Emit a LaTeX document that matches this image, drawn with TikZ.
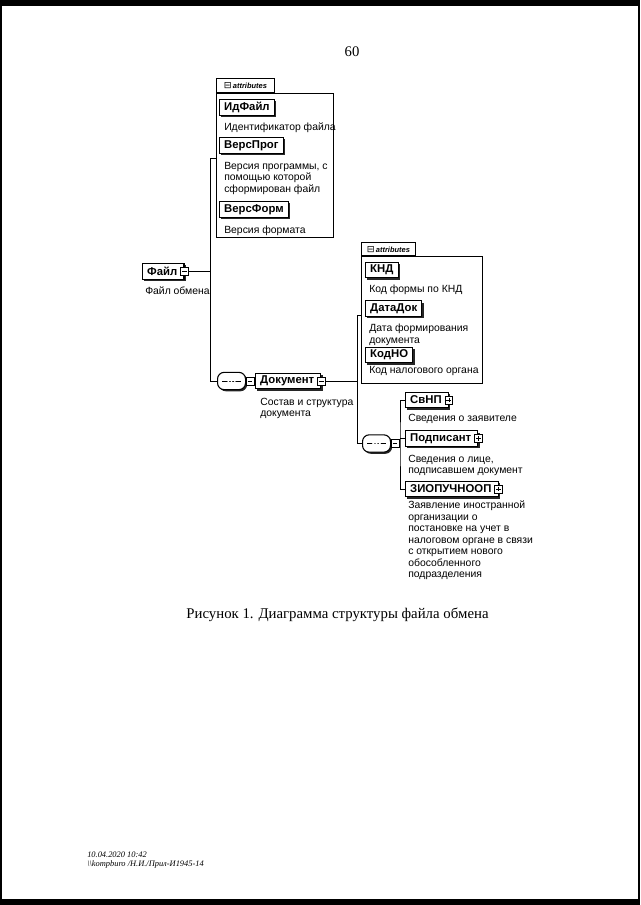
\documentclass[tikz,border=0pt]{standalone}
\usepackage{fontspec}
\setmainfont{Liberation Sans}
\newfontfamily\serifff{Liberation Serif}
\newfontfamily\symfont{DejaVu Sans}
\usetikzlibrary{shadows}
\newcommand{\xgap}{\kern 1.5pt}
\tikzset{
  ln/.style={line width=0.7pt},
  elem/.style={draw, line width=0.8pt, fill=white, anchor=west,
    font=\bfseries\fontsize{8.5}{9}\selectfont, inner xsep=3.5pt, inner ysep=0pt,
    minimum height=11.8pt,
    drop shadow={shadow xshift=1.4pt, shadow yshift=-1.4pt, fill=black!85, opacity=1}},
  desc/.style={anchor=north west, align=left, inner sep=0pt,
    font=\fontsize{7.8}{8.6}\selectfont},
  attrbox/.style={draw, line width=0.6pt, anchor=north west, inner sep=0pt},
  attrtab/.style={draw, line width=0.6pt, fill=white, anchor=south west, inner sep=0pt,
    font=\bfseries\itshape\fontsize{5.6}{6}\selectfont},
  xbox/.style={draw, fill=white, line width=0.5pt, minimum size=5.8pt, inner sep=0pt},
  minusx/.style={xbox, path picture={
    \draw[line width=0.5pt] ([xshift=1.1pt]path picture bounding box.west) -- ([xshift=-1.1pt]path picture bounding box.east);}},
  plusx/.style={xbox, path picture={
    \draw[line width=0.5pt] ([xshift=1.1pt]path picture bounding box.west) -- ([xshift=-1.1pt]path picture bounding box.east)
      ([yshift=-1.1pt]path picture bounding box.north) -- ([yshift=1.1pt]path picture bounding box.south);}},
  seq/.style={draw, fill=white, line width=0.8pt, rounded corners=5pt,
    minimum width=21pt, minimum height=13pt, inner sep=0pt, anchor=west,
    drop shadow={shadow xshift=1.2pt, shadow yshift=-1.2pt, fill=black!85, opacity=1},
    path picture={
      \draw[line width=0.6pt] ([xshift=3.5pt]path picture bounding box.west) -- ([xshift=-3.5pt]path picture bounding box.east);
      \foreach \dx in {-2.4pt,0pt,2.4pt} \fill ([xshift=\dx]path picture bounding box.center) circle (0.9pt);}},
}
\begin{document}
\begin{tikzpicture}[x=0.75pt,y=-0.75pt]
\useasboundingbox (0,0) rectangle (640,905);
\fill[white] (0,0) rectangle (640,905);
% scan edges
\fill[black] (0,0) rectangle (640,6);
\fill[black] (0,899) rectangle (640,905);
\fill[black] (0,0) rectangle (1.5,905);
\fill[black] (637.5,0) rectangle (640,905);

\node[font=\serifff\fontsize{11}{12}\selectfont] (pg) at (352,52) {60};

% ---- attributes of Файл
\node[attrbox, minimum width=87.75pt, minimum height=108pt] (at1) at (216,93) {};
\node[attrtab, minimum width=43.5pt, minimum height=10.5pt] (tab1) at (at1.north west) {{\symfont\mdseries\upshape\fontsize{7}{7}\selectfont ⊟}\,attributes};

\node[elem] (idf) at (219,107.5) {ИдФайл};
\node[desc] (idfd) at (224,123) {Идентификатор файла};
\node[elem] (vp) at (219,145.5) {ВерсПрог};
\node[desc] (vpd) at (224,162) {Версия программы, с\\помощью которой\\сформирован файл};
\node[elem] (vf) at (219,209.5) {ВерсФорм};
\node[desc] (vfd) at (224,226) {Версия формата};

% ---- Файл
\node[elem] (fa) at (142,271.5) {Файл\xgap};
\node[minusx] (fam) at (fa.east) {};
\node[desc] (fad) at (145,287) {Файл обмена};

\coordinate (b1t) at (210,158);
\coordinate (b1b) at (210,381);
\draw[ln] (fam.east) -- (fam.east -| b1t);
\draw[ln] (at1.west |- b1t) -- (b1t) -- (b1b);

% ---- sequence 1 and Документ
\node[seq] (s1) at (217,381) {};
\draw[ln] (b1b) -- (s1.west);
\node[minusx] (s1m) at ([xshift=3pt]s1.east) {};
\node[elem] (doc) at (255,381) {Документ\xgap};
\node[minusx] (docm) at (doc.east) {};
\draw[ln] (s1m.east) -- (doc.west);
\node[desc] (docd) at (260,398) {Состав и структура\\документа};

% ---- attributes of Документ
\node[attrbox, minimum width=90.75pt, minimum height=95.25pt] (at2) at (361,256) {};
\node[attrtab, minimum width=40.5pt, minimum height=9.75pt] (tab2) at (at2.north west) {{\symfont\mdseries\upshape\fontsize{7}{7}\selectfont ⊟}\,attributes};

\node[elem] (knd) at (365,270) {КНД};
\node[desc] (kndd) at (369,285) {Код формы по КНД};
\node[elem] (dd) at (365,308.5) {ДатаДок};
\node[desc] (ddd) at (369,324) {Дата формирования\\документа};
\node[elem] (kno) at (365,355) {КодНО};
\node[desc] (knod) at (369,366) {Код налогового органа};

\coordinate (b2t) at (357,315);
\coordinate (b2b) at (357,443.5);
\draw[ln] (docm.east) -- (docm.east -| b2t);
\draw[ln] (at2.west |- b2t) -- (b2t) -- (b2b);

% ---- sequence 2
\node[seq] (s2) at (362,443.5) {};
\draw[ln] (b2b) -- (s2.west);
\node[minusx] (s2m) at ([xshift=3pt]s2.east) {};

\node[elem] (svnp) at (405,400) {СвНП\xgap};
\node[plusx] (svnpp) at (svnp.east) {};
\node[desc] (svnpd) at (408,414) {Сведения о заявителе};
\node[elem] (pod) at (405,438.5) {Подписант\xgap};
\node[plusx] (podp) at (pod.east) {};
\node[desc] (podd) at (408,455) {Сведения о лице,\\подписавшем документ};
\node[elem] (ziop) at (405,489) {ЗИОПУЧНООП\xgap};
\node[plusx] (ziopp) at (ziop.east) {};
\node[desc] (ziopd) at (408,501) {Заявление иностранной\\организации о\\постановке на учет в\\налоговом органе в связи\\с открытием нового\\обособленного\\подразделения};

\coordinate (b3) at (400,443.5);
\draw[ln] (s2m.east) -- (b3);
\draw[ln] (svnp.west) -| (b3) |- (ziop.west);
\draw[ln] (b3 |- pod.west) -- (pod.west);

% ---- caption and footer
\node[font=\serifff\fontsize{11.1}{13}\selectfont] (cap) at (337.5,615) {Рисунок 1. Диаграмма структуры файла обмена};
\node[anchor=west, inner sep=0pt, font=\serifff\itshape\fontsize{6.3}{7}\selectfont] (f1) at (87,855) {10.04.2020 10:42};
\node[anchor=west, inner sep=0pt, font=\serifff\itshape\fontsize{6.3}{7}\selectfont] (f2) at (87,864) {\textbackslash\textbackslash kompburo /Н.И./Прил-И1945-14};
\end{tikzpicture}
\end{document}
